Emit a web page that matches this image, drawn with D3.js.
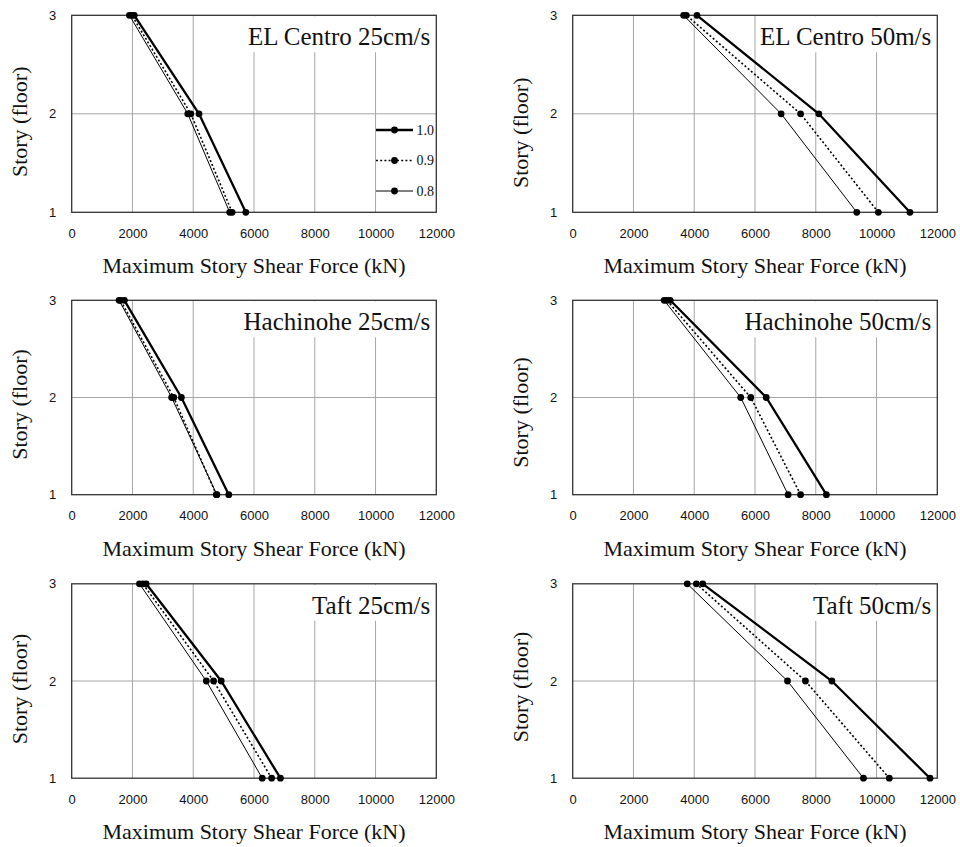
<!DOCTYPE html>
<html>
<head>
<meta charset="utf-8">
<script src="https://cdn.jsdelivr.net/npm/d3@7"></script>
<style>
  html, body { margin: 0; padding: 0; background: #fff; }
  svg { display: block; }
</style>
</head>
<body>
<svg id="chart" width="960" height="847"></svg>
<script>
// ---- data ----
const floors = [1, 2, 3];
const seriesNames = ["1.0", "0.9", "0.8"];
const xTicks = [0, 2000, 4000, 6000, 8000, 10000, 12000];
const yTicks = [1, 2, 3];
const panelTitles = ["EL Centro 25cm/s", "EL Centro 50m/s", "Hachinohe 25cm/s", "Hachinohe 50cm/s", "Taft 25cm/s", "Taft 50cm/s"];
const xTitle = "Maximum Story Shear Force (kN)";
const yTitle = "Story (floor)";

// values by floor 1, 2, 3
const elCentro25_10 = [5730, 4190, 2060];
const elCentro25_09 = [5280, 3920, 1980];
const elCentro25_08 = [5200, 3820, 1900];

const elCentro50_10 = [11100, 8100, 4090];
const elCentro50_09 = [10060, 7500, 3740];
const elCentro50_08 = [9350, 6860, 3650];

const hachinohe25_10 = [5170, 3610, 1735];
const hachinohe25_09 = [4760, 3360, 1610];
const hachinohe25_08 = [4780, 3290, 1560];

const hachinohe50_10 = [8350, 6370, 3210];
const hachinohe50_09 = [7500, 5860, 3100];
const hachinohe50_08 = [7090, 5530, 3010];

const taft25_10 = [6870, 4920, 2450];
const taft25_09 = [6580, 4670, 2340];
const taft25_08 = [6270, 4430, 2230];

const taft50_10 = [11760, 8530, 4280];
const taft50_09 = [10420, 7660, 4070];
const taft50_08 = [9570, 7070, 3770];

const panelSeries = [
  [elCentro25_10, elCentro25_09, elCentro25_08],
  [elCentro50_10, elCentro50_09, elCentro50_08],
  [hachinohe25_10, hachinohe25_09, hachinohe25_08],
  [hachinohe50_10, hachinohe50_09, hachinohe50_08],
  [taft25_10, taft25_09, taft25_08],
  [taft50_10, taft50_09, taft50_08]
];

// ---- layout ----
const colLeft = [71.7, 572.7];
const plotW = 364.6;
const rowTop = [15.3, 300.3, 583.8];
const rowBottom = [212.3, 494.7, 778.2];
const yTitleShift = [8, 19, 7, 15, 8, 6];

const seriesStyle = {
  "1.0": { width: 2.3, dash: null },
  "0.9": { width: 1.6, dash: "2,2.2" },
  "0.8": { width: 1.0, dash: null }
};

const SERIF = "'Liberation Serif', 'Times New Roman', serif";
const SANS = "'Liberation Sans', Arial, sans-serif";

const svg = d3.select("#chart");

panelTitles.forEach((title, i) => {
  const col = i % 2, row = Math.floor(i / 2);
  const left = colLeft[col], top = rowTop[row], bottom = rowBottom[row];
  const x = d3.scaleLinear().domain([0, 12000]).range([left, left + plotW]);
  const y = d3.scaleLinear().domain([1, 3]).range([bottom, top]);
  const g = svg.append("g");

  // gridlines
  g.append("g").selectAll("line.vg").data(xTicks.slice(1, -1)).join("line")
    .attr("x1", d => x(d)).attr("x2", d => x(d))
    .attr("y1", top).attr("y2", bottom)
    .attr("stroke", "#a6a6a6").attr("stroke-width", 1);
  g.append("g").selectAll("line.hg").data([2]).join("line")
    .attr("x1", left).attr("x2", left + plotW)
    .attr("y1", d => y(d)).attr("y2", d => y(d))
    .attr("stroke", "#a6a6a6").attr("stroke-width", 1);

  // title with white box behind
  const tText = g.append("text")
    .attr("x", left + plotW - 6).attr("y", top + 30)
    .attr("text-anchor", "end")
    .attr("font-family", SERIF).attr("font-size", 25)
    .attr("fill", "#111")
    .text(title);
  const bb = tText.node().getBBox();
  g.insert("rect", "text")
    .attr("x", bb.x - 2).attr("y", top + 1)
    .attr("width", left + plotW - (bb.x - 2) - 1)
    .attr("height", 36)
    .attr("fill", "#fff");

  // frame
  g.append("rect")
    .attr("x", left).attr("y", top)
    .attr("width", plotW).attr("height", bottom - top)
    .attr("fill", "none").attr("stroke", "#333").attr("stroke-width", 1.3);

  // axes
  const xAxis = d3.axisBottom(x).tickValues(xTicks).tickSize(0).tickPadding(16.5).tickFormat(d3.format("d"));
  const gx = g.append("g").attr("transform", `translate(0,${bottom})`).call(xAxis);
  gx.select(".domain").remove();
  gx.selectAll("text").attr("font-family", SANS).attr("font-size", 13).attr("fill", "#111");

  const yAxis = d3.axisLeft(y).tickValues(yTicks).tickSize(0).tickPadding(15.5).tickFormat(d3.format("d"));
  const gy = g.append("g").attr("transform", `translate(${left},0)`).call(yAxis);
  gy.select(".domain").remove();
  gy.selectAll("text").attr("font-family", SANS).attr("font-size", 13).attr("fill", "#111");

  // axis titles
  g.append("text")
    .attr("x", left + plotW / 2).attr("y", bottom + 61)
    .attr("text-anchor", "middle")
    .attr("font-family", SERIF).attr("font-size", 22).attr("fill", "#111")
    .text(xTitle);
  g.append("text")
    .attr("transform", `translate(${left - 44.5},${(top + bottom) / 2 + yTitleShift[i]}) rotate(-90)`)
    .attr("text-anchor", "middle")
    .attr("font-family", SERIF).attr("font-size", 22).attr("fill", "#111")
    .text(yTitle);

  // series (draw 0.8 first so 1.0 is on top)
  const line = d3.line().x(d => x(d.v)).y(d => y(d.f));
  const sData = panelSeries[i];
  [2, 1, 0].forEach(k => {
    const name = seriesNames[k];
    const pts = floors.map((f, j) => ({ f, v: sData[k][j] }));
    const st = seriesStyle[name];
    g.append("path").datum(pts)
      .attr("d", line).attr("fill", "none")
      .attr("stroke", "#000").attr("stroke-width", st.width)
      .attr("stroke-dasharray", st.dash);
    g.append("g").selectAll("circle").data(pts).join("circle")
      .attr("cx", d => x(d.v)).attr("cy", d => y(d.f))
      .attr("r", 3.4).attr("fill", "#000");
  });

  // legend only in first panel
  if (i === 0) {
    const lg = g.append("g");
    const ly = [130, 160.5, 191];
    seriesNames.forEach((name, k) => {
      const st = seriesStyle[name];
      lg.append("line")
        .attr("x1", 376).attr("x2", 413).attr("y1", ly[k]).attr("y2", ly[k])
        .attr("stroke", "#000").attr("stroke-width", st.width)
        .attr("stroke-dasharray", st.dash);
      lg.append("circle").attr("cx", 394.5).attr("cy", ly[k]).attr("r", 3.4).attr("fill", "#000");
      lg.append("text")
        .attr("x", 416.5).attr("y", ly[k]).attr("dy", "0.35em")
        .attr("font-family", SERIF).attr("font-size", 14).attr("fill", "#111")
        .text(name);
    });
  }
});
</script>
</body>
</html>
